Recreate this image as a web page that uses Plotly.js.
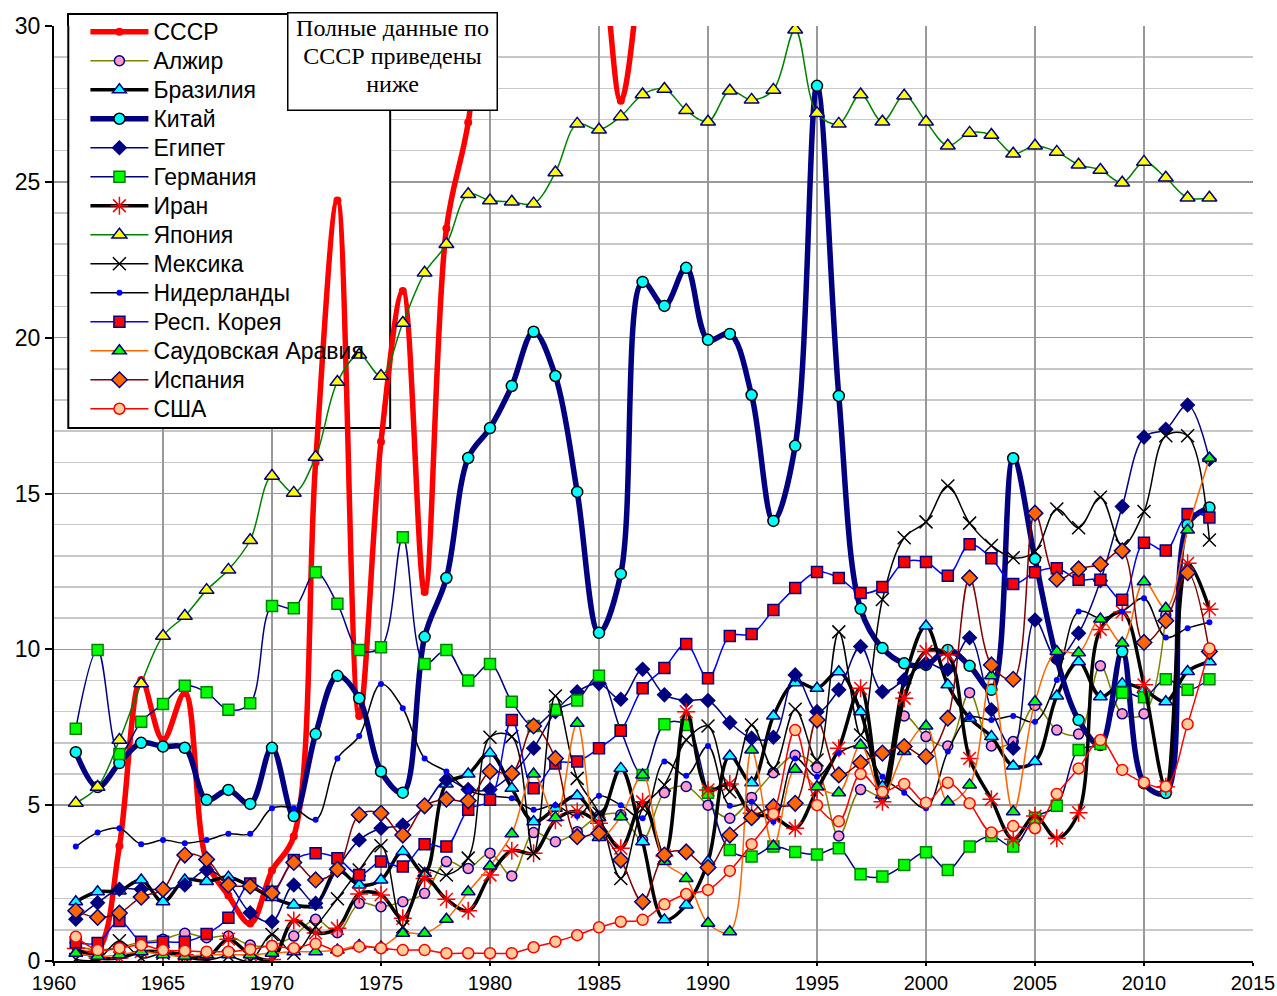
<!DOCTYPE html>
<html><head><meta charset="utf-8">
<script src="https://cdn.plot.ly/plotly-3.0.1.min.js"></script>
<style>html,body{margin:0;padding:0;background:#fff;}#chart{width:1277px;height:996px;}</style>
</head><body><div id="chart"></div>
<script>
const years = [1961,1962,1963,1964,1965,1966,1967,1968,1969,1970,1971,1972,1973,1974,1975,1976,1977,1978,1979,1980,1981,1982,1983,1984,1985,1986,1987,1988,1989,1990,1991,1992,1993,1994,1995,1996,1997,1998,1999,2000,2001,2002,2003,2004,2005,2006,2007,2008,2009,2010,2011,2012,2013];
const yearsUSSR = [1961,1962,1963,1964,1965,1966,1967,1968,1969,1970,1971,1972,1973,1974,1975,1976,1977,1978,1979,1980,1981,1982,1983,1984,1985,1986,1987];

const ussr = [0.3,0.35,3.69,9.02,7.09,8.6,3.2,2.1,1.2,2.9,4.0,16.0,24.4,7.86,16.66,21.5,11.84,23.5,26.9,33,35,36,36,35,33,27.6,33];
const algeria = [0.5,0.35,0.45,0.6,0.7,0.89,0.75,0.8,0.51,0.5,0.8,1.34,0.91,1.85,1.74,1.9,2.17,3.19,2.97,3.46,2.73,4.12,3.83,4.15,4.65,4.69,3.88,5.4,5.6,5.0,4.58,5.25,6.04,6.6,6.2,4.01,5.5,5.3,7.86,7.2,6.9,8.61,6.9,7.04,8.2,7.41,7.28,9.47,7.93,7.93,11.1,null,null];
const brazil = [1.9,2.22,2.25,2.6,1.9,2.6,2.55,2.69,2.4,2.04,1.8,1.8,2.92,2.44,2.6,3.51,2.81,5.68,6.0,6.67,5.54,4.47,4.9,5.3,4.6,6.18,3.83,1.32,1.8,3.19,6.58,5.72,7.86,8.93,8.75,9.28,8.0,5.6,9.0,10.75,8.86,7.79,7.2,6.26,6.4,8.5,9.6,8.48,8.9,8.7,8.32,9.29,9.6];
const china = [6.7,5.58,6.35,7.0,6.88,6.84,5.17,5.49,5.04,6.84,4.65,7.28,9.15,8.43,6.08,5.4,10.4,12.29,16.14,17.1,18.45,20.19,18.77,15.05,10.53,12.42,21.79,21.02,22.24,19.93,20.12,18.16,14.12,16.53,28.08,18.13,11.3,10.04,9.55,9.5,9.98,9.47,8.7,16.13,12.9,9.7,7.73,6.93,9.93,5.7,5.39,14.0,14.55];
const egypt = [1.34,1.87,2.3,2.3,2.3,2.44,2.92,2.49,1.55,1.26,2.44,1.85,2.97,3.88,4.26,4.36,4.98,5.81,5.5,5.5,6.0,6.83,8.0,8.64,8.9,8.4,9.36,8.54,8.36,8.36,7.65,7.15,7.18,9.18,8.0,8.7,10.09,8.64,9.02,9.55,9.36,10.37,8.06,6.83,10.94,9.7,10.52,12.2,14.58,16.81,17.06,17.84,16.1];
const germany = [7.45,9.98,6.64,7.68,8.25,8.83,8.62,8.06,8.27,11.39,11.32,12.47,11.46,9.98,10.07,13.6,9.53,9.98,9.0,9.53,8.32,7.54,8.06,8.36,9.15,7.4,5.97,7.6,7.57,5.4,3.56,3.35,3.67,3.5,3.42,3.62,2.78,2.71,3.08,3.49,2.92,3.67,4.01,3.67,4.6,4.98,6.77,6.96,8.61,8.46,9.04,8.7,9.04];
const iran = [0.4,0.1,0.1,0.3,0.3,0.2,0.1,0.7,0.2,0.05,1.3,0.9,1.05,2.15,2.12,1.37,2.65,1.98,1.61,2.76,3.54,3.46,4.52,4.8,4.42,3.62,5.11,3.37,8.0,5.49,5.68,4.74,4.63,4.26,5.5,6.83,8.75,5.11,8.43,9.93,9.82,6.5,5.19,3.91,4.65,3.94,4.76,10.64,11.2,8.86,5.59,12.76,11.29];
const japan = [5.07,5.58,7.09,8.9,10.43,11.07,11.9,12.55,13.5,15.56,15.02,16.17,18.58,19.45,18.77,20.47,22.08,23.0,24.6,24.4,24.36,24.3,25.3,26.86,26.67,27.1,27.8,27.98,27.3,26.93,27.92,27.63,27.95,29.88,27.2,26.86,27.8,26.93,27.76,26.93,26.16,26.57,26.5,25.9,26.16,25.96,25.55,25.38,24.97,25.64,25.13,24.49,24.49];
const mexico = [0.05,0.05,0.65,0.1,0.25,0.1,0.03,0.15,0.0,0.85,0.25,1.1,2.0,2.92,3.7,1.1,2.92,2.76,3.3,7.18,7.2,3.46,8.5,5.86,4.74,2.65,4.9,5.65,7.09,7.54,5.43,7.57,6.18,8.08,6.45,10.56,7.25,11.6,13.58,14.09,15.24,14.05,13.33,12.94,13.14,14.5,13.9,14.88,13.32,14.42,16.85,16.85,13.51];
const netherlands = [3.67,4.12,4.26,3.75,3.88,3.78,3.88,4.08,4.08,4.9,4.9,4.53,6.5,7.22,8.89,8.11,6.5,6.08,5.47,5.3,5.22,4.85,5.0,4.65,5.3,5.0,4.58,6.4,5.94,6.9,4.98,5.11,4.47,6.5,5.91,6.67,6.9,5.91,5.4,4.9,6.72,7.82,7.73,7.86,7.68,9.02,11.21,11.0,11.21,11.64,10.38,10.68,10.87];
const korea = [0.6,0.58,1.28,0.62,0.62,0.62,0.87,1.39,2.49,2.22,3.24,3.46,3.3,2.76,3.19,3.03,3.75,3.67,4.85,5.17,7.73,5.54,6.34,6.4,6.83,7.39,8.75,9.4,10.17,9.07,10.43,10.49,11.26,11.97,12.48,12.29,11.81,12.0,12.8,12.8,12.36,13.37,12.92,12.1,12.47,12.6,12.23,12.23,11.59,13.42,13.17,14.34,14.23];
const saudi = [0.25,0.15,0.2,0.3,0.2,0.15,0.2,0.2,0.2,0.25,0.3,0.3,0.35,0.5,0.45,0.89,0.89,1.34,2.22,3.05,4.08,6.0,4.6,7.63,3.96,4.63,5.97,3.19,2.65,1.21,0.94,6.77,3.69,6.15,5.59,5.4,6.93,5.33,6.72,7.54,5.11,5.65,9.15,4.79,8.32,9.93,9.89,10.97,10.2,12.17,11.32,13.83,16.13];
const spain = [1.61,1.4,1.54,2.05,2.3,3.4,3.26,2.44,2.4,2.18,3.16,2.6,2.94,4.69,4.74,4.04,4.98,5.19,5.14,6.08,6.02,7.54,6.5,3.99,4.1,3.24,1.9,3.4,3.5,3.0,4.04,4.6,4.95,5.06,7.73,5.97,6.36,6.67,6.88,6.56,7.79,12.29,9.5,9.04,14.37,12.25,12.58,12.73,13.16,10.22,10.92,12.46,9.93];
const usa = [0.78,0.35,0.41,0.51,0.35,0.33,0.3,0.3,0.37,0.48,0.41,0.55,0.33,0.46,0.41,0.35,0.35,0.25,0.25,0.25,0.25,0.44,0.62,0.83,1.08,1.26,1.32,1.82,2.15,2.28,2.89,3.75,4.72,7.41,5.0,4.48,6.0,5.43,5.68,5.08,5.72,5.06,4.12,4.33,4.26,5.36,6.18,7.09,6.13,5.73,5.6,7.6,10.03];

const xTicks = [1960,1965,1970,1975,1980,1985,1990,1995,2000,2005,2010,2015];
const yTicks = [0,5,10,15,20,25,30];
const noteText = '<span style="font-size:24px">Полные данные по<br>СССР приведены<br>ниже</span>';

const NAVY = '#000080';
const LF = 'font-size:23px';
function nm(s){ return '<span style="'+LF+'">'+s+'</span>'; }
function tr(name, x, y, line, marker){
  return {type:'scatter', mode:'lines+markers', name:nm(name), x:x, y:y,
    line:Object.assign({shape:'spline', smoothing:1}, line), marker:marker, connectgaps:false};
}
const data = [
  tr('СССР', yearsUSSR, ussr, {color:'#FF0000', width:5.5}, {symbol:'circle', size:8, color:'#FF0000'}),
  tr('Алжир', years, algeria, {color:'#808000', width:1.5}, {symbol:'circle', size:10, color:'#FF99CC', line:{color:NAVY, width:1.5}}),
  tr('Бразилия', years, brazil, {color:'#000000', width:3.5}, {symbol:'triangle-up', size:12, color:'#00FFFF', line:{color:NAVY, width:1.5}}),
  tr('Китай', years, china, {color:NAVY, width:5.5}, {symbol:'circle', size:11, color:'#00FFFF', line:{color:'#000000', width:1.5}}),
  tr('Египет', years, egypt, {color:NAVY, width:1.5}, {symbol:'diamond', size:12, color:NAVY}),
  tr('Германия', years, germany, {color:NAVY, width:1.5}, {symbol:'square', size:11, color:'#00FF00', line:{color:'#008000', width:1.5}}),
  tr('Иран', years, iran, {color:'#000000', width:3.5}, {symbol:'asterisk-open', size:15, color:'#FF0000', line:{color:'#FF0000', width:1.5}}),
  tr('Япония', years, japan, {color:'#008000', width:1.5}, {symbol:'triangle-up', size:13, color:'#FFFF00', line:{color:NAVY, width:1.5}}),
  tr('Мексика', years, mexico, {color:'#000000', width:1.5}, {symbol:'x-thin-open', size:13, color:'#000000', line:{color:'#000000', width:1.5}}),
  tr('Нидерланды', years, netherlands, {color:'#000000', width:1.5}, {symbol:'circle', size:6, color:'#0000FF'}),
  tr('Респ. Корея', years, korea, {color:'#0000FF', width:1.5}, {symbol:'square', size:11, color:'#FF0000', line:{color:NAVY, width:1.5}}),
  tr('Саудовская Аравия', years, saudi, {color:'#FF6600', width:1.5}, {symbol:'triangle-up', size:12, color:'#00FF00', line:{color:NAVY, width:1.5}}),
  tr('Испания', years, spain, {color:'#800000', width:1.5}, {symbol:'diamond', size:12, color:'#FF6600', line:{color:NAVY, width:1.5}}),
  tr('США', years, usa, {color:'#FF0000', width:1.5}, {symbol:'circle', size:11, color:'#FFCC99', line:{color:'#FF0000', width:1.5}})
];

const layout = {
  width:1277, height:996,
  margin:{l:54, r:24, t:26, b:35},
  paper_bgcolor:'#ffffff', plot_bgcolor:'#ffffff',
  font:{family:'Liberation Sans, Arial, sans-serif', color:'#000'},
  showlegend:true,
  legend:{x:0.0262, y:1.0147, xanchor:'left', yanchor:'top', bgcolor:'rgba(0,0,0,0)', borderwidth:0,
    font:{family:'Liberation Sans, Arial, sans-serif', size:20, color:'#000'}, itemwidth:58, tracegroupgap:0, traceorder:'normal'},
  xaxis:{range:[1960,2015], tickvals:xTicks, ticktext:xTicks.map(String), showgrid:true, gridcolor:'#999999', gridwidth:1.5,
    showline:true, linecolor:'#000', linewidth:2, ticks:'outside', ticklen:3, tickwidth:2, tickcolor:'#000',
    tickfont:{size:20, family:'Liberation Sans, Arial, sans-serif'}, zeroline:false},
  yaxis:{range:[0,30], tickvals:yTicks, ticktext:yTicks.map(String), showgrid:true, gridcolor:'#999999', gridwidth:1.5,
    minor:{dtick:1, showgrid:true, gridcolor:'#c8c8c8', gridwidth:1.5},
    showline:true, linecolor:'#000', linewidth:2, ticks:'outside', ticklen:7, tickwidth:2, tickcolor:'#000',
    tickfont:{size:23, family:'Liberation Sans, Arial, sans-serif'}, zeroline:false},
  shapes:[
    {type:'rect', xref:'x', yref:'y', x0:1960.656, x1:1975.42, y0:17.1, y1:30.39, fillcolor:'#ffffff', line:{color:'#000', width:2}, layer:'between'},
    {type:'path', xref:'paper', yref:'paper', path:'M0.01168,1 L0.01168,1.0128 L0.2802,1.0128 L0.2802,1', fillcolor:'#ffffff', line:{color:'#000', width:2}, layer:'above'}
  ],
  annotations:[
    {xref:'paper', yref:'paper', x:0.282, y:0.9615, xanchor:'center', yanchor:'middle', text:noteText, showarrow:false,
     font:{family:'Liberation Serif, Times New Roman, serif', size:21.9, color:'#000'}, align:'center', valign:'top',
     bgcolor:'#ffffff', bordercolor:'#000', borderwidth:1.5, borderpad:1, width:206, height:94}
  ]
};
Plotly.newPlot('chart', data, layout, {staticPlot:true, displayModeBar:false});
</script></body></html>
